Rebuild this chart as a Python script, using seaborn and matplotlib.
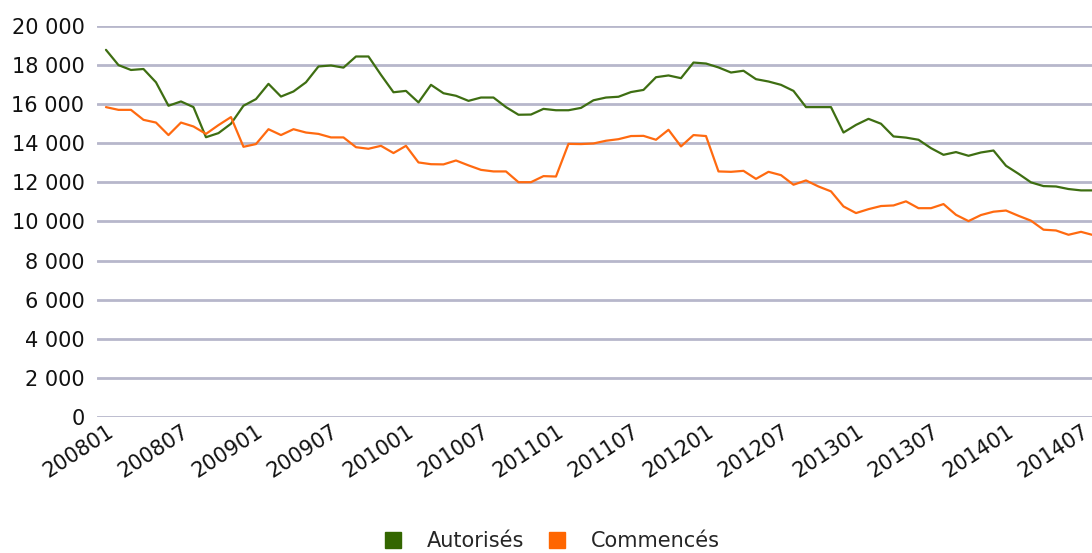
import matplotlib
matplotlib.use("Agg")
import matplotlib.pyplot as plt
from matplotlib.lines import Line2D
import seaborn as sns
import pandas as pd

# months 200801 .. 201408
months = [f"{2008 + i // 12}{i % 12 + 1:02d}" for i in range(80)]

autorises = [
    18780, 18000, 17750, 17800, 17120, 15920, 16140, 15850, 14310, 14520,
    15000, 15920, 16260, 17040, 16390, 16650, 17120, 17930, 17980, 17870,
    18440, 18440, 17500, 16610, 16680, 16090, 16990, 16560, 16430, 16170,
    16340, 16340, 15850, 15460, 15470, 15760, 15690, 15690, 15810, 16200,
    16340, 16380, 16620, 16730, 17380, 17470, 17330, 18130, 18080, 17880,
    17620, 17710, 17280, 17160, 16990, 16680, 15850, 15850, 15850, 14550,
    14940, 15250, 15000, 14350, 14290, 14180, 13750, 13410, 13550, 13360,
    13530, 13630, 12850, 12440, 12000, 11810, 11790, 11660, 11590, 11590,
]

commences = [
    15850, 15710, 15710, 15200, 15060, 14420, 15060, 14860, 14480, 14930,
    15340, 13820, 13960, 14720, 14420, 14720, 14550, 14480, 14300, 14300,
    13800, 13720, 13870, 13500, 13870, 13020, 12930, 12920, 13120, 12870,
    12640, 12560, 12560, 12010, 12010, 12320, 12300, 13970, 13960, 13990,
    14130, 14210, 14370, 14380, 14180, 14690, 13840, 14420, 14370, 12560,
    12540, 12590, 12180, 12540, 12370, 11880, 12100, 11790, 11540, 10770,
    10430, 10630, 10790, 10820, 11030, 10680, 10680, 10890, 10340, 10020,
    10330, 10500, 10560, 10290, 10040, 9580, 9540, 9320, 9470, 9300,
]

series_names = ["Autorisés", "Commencés"]
colors = ["#3e6e12", "#ff6a10"]
legend_colors = ["#336600", "#ff6600"]

df = pd.DataFrame({
    "idx": list(range(len(months))) * 2,
    "value": autorises + commences,
    "serie": [series_names[0]] * len(months) + [series_names[1]] * len(months),
})

sns.set_style("white")
plt.rcParams["font.family"] = ["DejaVu Sans"]

fig = plt.figure(figsize=(10.92, 5.53), dpi=100)
ax = fig.add_axes([0.0888, 0.246, 0.9112, 0.707])

for y in range(0, 20001, 2000):
    ax.axhline(y, color="#b7b7cb", lw=2, zorder=0)

sns.lineplot(data=df, x="idx", y="value", hue="serie", palette=colors,
             linewidth=1.6, legend=False, ax=ax, zorder=3)

ax.set_ylim(0, 20000)
ax.set_xlim(-0.72, 78.88)
ax.set_yticks(range(0, 20001, 2000))
ax.set_yticklabels([f"{v:,}".replace(",", " ") for v in range(0, 20001, 2000)],
                   fontsize=15, color="#111111")
tick_pos = list(range(0, 80, 6))
ax.set_xticks(tick_pos)
ax.set_xticklabels([months[i] for i in tick_pos], rotation=33, ha="right",
                   rotation_mode="anchor", fontsize=15, color="#111111")
ax.tick_params(axis="both", length=0)
ax.tick_params(axis="y", pad=9)
ax.tick_params(axis="x", pad=3)
ax.set_xlabel("")
ax.set_ylabel("")
for s in ax.spines.values():
    s.set_visible(False)

handles = [Line2D([], [], marker="s", linestyle="", markersize=12,
                  markerfacecolor=c, markeredgecolor=c) for c in legend_colors]
fig.legend(handles, series_names, loc="lower center", ncol=2, frameon=False,
           fontsize=15, bbox_to_anchor=(0.5, -0.03), handletextpad=0.6,
           columnspacing=0.6)

fig.savefig("out.png", dpi=100)
